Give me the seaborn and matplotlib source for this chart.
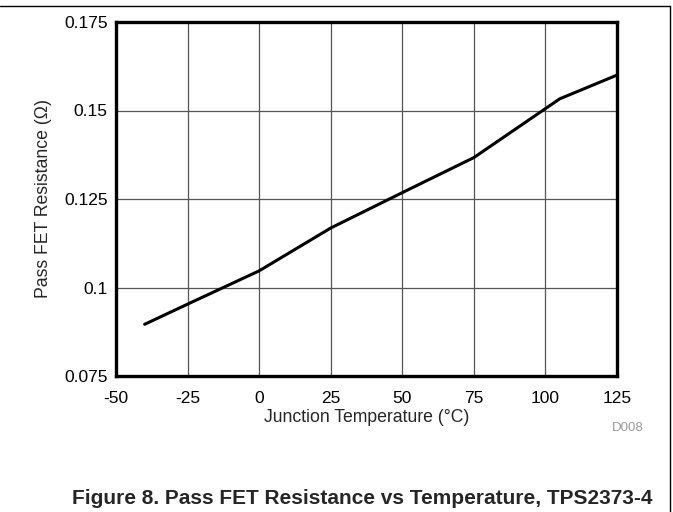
import matplotlib
matplotlib.use('Agg')
import matplotlib.pyplot as plt
import seaborn as sns
import pandas as pd
from matplotlib.lines import Line2D

# data
temp_c = [-40, -25, 0, 25, 50, 75, 105, 125]
resistance_ohm = [0.0896, 0.0953, 0.1047, 0.1168, 0.1268, 0.1367, 0.1533, 0.1600]

x_ticks = [-50, -25, 0, 25, 50, 75, 100, 125]
y_ticks = [0.075, 0.1, 0.125, 0.15, 0.175]
y_tick_labels = ['0.075', '0.1', '0.125', '0.15', '0.175']

df = pd.DataFrame({'temp': temp_c, 'res': resistance_ohm})

sns.set_style('white')
plt.rcParams['font.family'] = ['Liberation Sans', 'DejaVu Sans']

fig = plt.figure(figsize=(6.73, 5.12), dpi=100)
ax = fig.add_axes([116 / 673, 1 - 376 / 512, 501 / 673, 354 / 512])

sns.lineplot(data=df, x='temp', y='res', ax=ax, color='black', linewidth=2.2)

ax.set_xlim(-50, 125)
ax.set_ylim(0.075, 0.175)
ax.set_xticks(x_ticks)
ax.set_xticklabels([str(t) for t in x_ticks])
ax.set_yticks(y_ticks)
ax.set_yticklabels(y_tick_labels)
ax.grid(True, color='#555555', linewidth=0.9)
ax.set_axisbelow(True)
ax.tick_params(axis='both', length=0, labelsize=12.5, colors='black')
ax.tick_params(axis='x', pad=11)
ax.tick_params(axis='y', pad=6)
for s in ax.spines.values():
    s.set_color('black')
    s.set_linewidth(2.4)

ax.set_xlabel('Junction Temperature (°C)', fontsize=12.7, labelpad=2)
ax.set_ylabel('Pass FET Resistance (Ω)', fontsize=12.7, labelpad=9)

fig.text(644 / 673, 1 - 428 / 512, 'D008', fontsize=9.5, color='#999999',
         ha='right', va='center')
fig.text(362 / 673, 1 - 498 / 512,
         'Figure 8. Pass FET Resistance vs Temperature, TPS2373-4',
         fontsize=15, fontweight='bold', ha='center', va='center')

# frame lines on the page (top and right only)
fig.add_artist(Line2D([0, 670 / 673], [1 - 6 / 512, 1 - 6 / 512],
                      transform=fig.transFigure, color='black', linewidth=1))
fig.add_artist(Line2D([670 / 673, 670 / 673], [0, 1 - 6 / 512],
                      transform=fig.transFigure, color='black', linewidth=1))

fig.savefig('out.png', dpi=100)
plt.close(fig)
